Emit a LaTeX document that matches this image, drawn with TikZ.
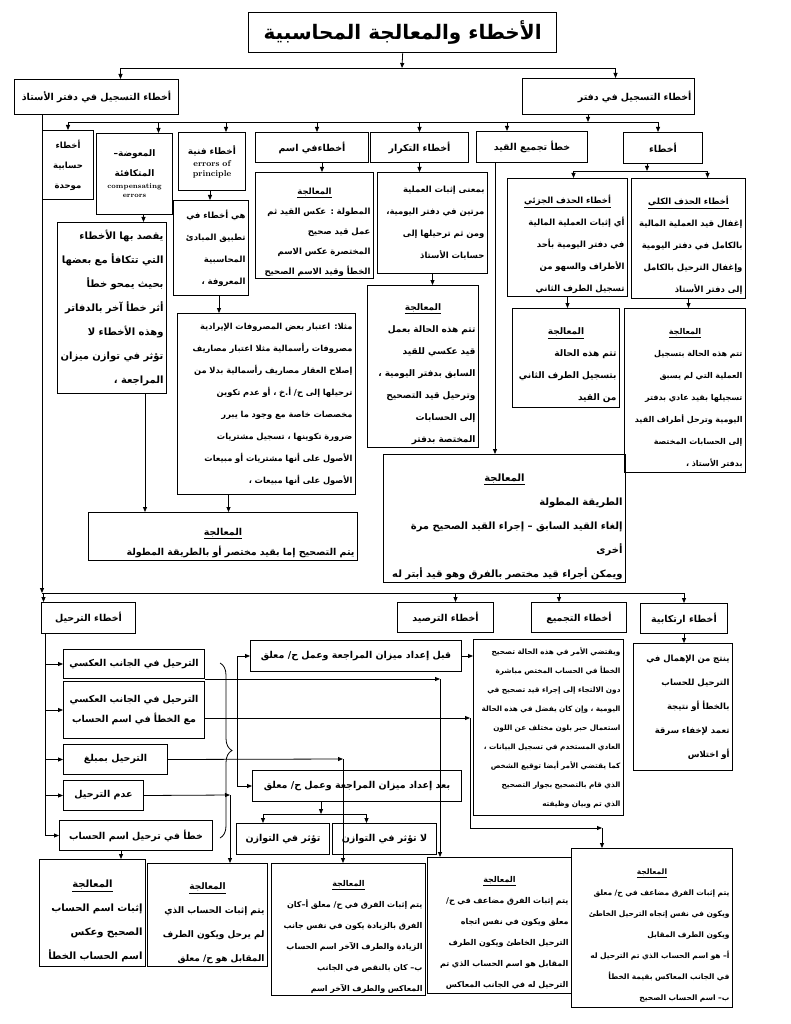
\documentclass[tikz,border=0pt]{standalone}
\usepackage{fontspec}
\usetikzlibrary{arrows.meta,decorations.pathreplacing}
\newfontfamily\arfont[Script=Arabic]{DejaVu Sans}
\TeXXeTstate=1
\newcommand{\arl}[1]{\beginR#1\endR}
\newcommand{\hd}[1]{\par\hbox to\linewidth{\hss\underline{\arl{#1}}\hss}\par}

\begin{document}
\begin{tikzpicture}[x=1pt,y=-1pt,
  box/.style={draw,line width=1pt,inner xsep=3pt,inner ysep=2pt,anchor=north west},
  lbl/.style={box,font=\arfont\bfseries\fontsize{#1}{#1}\selectfont},
  lbl/.default=9.5,
  txt/.style 2 args={box,align=right,font=\arfont\bfseries\fontsize{#1}{#2}\selectfont},
  arr/.style={-{Triangle[length=5pt,width=4pt]},line width=0.8pt},
  ln/.style={line width=0.8pt}]
  \fill[white] (0,0) rectangle (791,1024);
  \useasboundingbox (0,0) rectangle (791,1024);

  \node[box,line width=1.3pt,font=\arfont\bfseries\fontsize{20}{24}\selectfont,
    minimum width=308,minimum height=40] (title) at (248,12) {\arl{الأخطاء والمعالجة المحاسبية}};
  \node[lbl,minimum width=164,minimum height=35] (ledger) at (14,79) {\arl{أخطاء التسجيل في دفتر الأستاذ}};
  \node[lbl,text width=166,align=right,minimum height=36] (journal) at (522,78) {\arl{أخطاء التسجيل في دفتر}};

  \node[txt={8.5}{20},align=center,text width=45,minimum height=69] (arith) at (42,130)
    {\arl{أخطاء}\\\arl{حسابية}\\\arl{موحدة}};
  \node[txt={9}{20},align=center,text width=70,minimum height=81] (comp) at (96,133)
    {\arl{المعوضة–}\\\arl{المتكافئة}\par\vspace{3pt}
     {\normalfont\bfseries\fontsize{7}{9}\selectfont compensating\\errors\par}};
  \node[txt={9}{18},align=center,text width=61,minimum height=58] (princ) at (178,132)
    {\arl{أخطاء فنية}\par\vspace{2pt}
     {\normalfont\bfseries\fontsize{8.5}{10}\selectfont errors of\\principle\par}};
  \node[lbl,minimum width=113,minimum height=30] (nameerr) at (255,132) {\arl{أخطاءفي اسم}};
  \node[lbl,minimum width=98,minimum height=30] (dup) at (370,132) {\arl{أخطاء التكرار}};
  \node[lbl,minimum width=111,minimum height=31] (sumerr) at (476,131) {\arl{خطأ تجميع القيد}};
  \node[lbl,minimum width=79,minimum height=31] (omit) at (623,132) {\arl{أخطاء}};

  \node[txt={10}{24},text width=103,minimum height=171] (compdesc) at (57,222)
    {\arl{يقصد بها الأخطاء}\\\arl{التي تتكافأ مع بعضها}\\\arl{بحيث يمحو خطأ}\\
     \arl{أثر خطأ آخر بالدفاتر}\\\arl{وهذه الأخطاء لا}\\\arl{تؤثر في توازن ميزان}\\\arl{المراجعة ،}};
  \node[txt={8.5}{22},text width=69,minimum height=95] (princdesc) at (173,200)
    {\arl{هي أخطاء في}\\\arl{تطبيق المبادئ}\\\arl{المحاسبية}\\\arl{المعروفة ،}};
  \node[txt={8.5}{20},text width=112,minimum height=106] (nametreat) at (255,172)
    {\hd{المعالجة}\arl{المطولة : عكس القيد ثم}\\\arl{عمل قيد صحيح}\\
     \arl{المختصرة عكس الاسم}\\\arl{الخطأ وقيد الاسم الصحيح}};
  \node[txt={8.5}{22},text width=104,minimum height=101] (dupdesc) at (377,172)
    {\arl{بمعنى إثبات العملية}\\\arl{مرتين في دفتر اليومية،}\\\arl{ومن ثم ترحيلها إلى}\\\arl{حسابات الأستاذ}};
  \node[txt={8.5}{22},text width=114,minimum height=118] (partial) at (507,178)
    {\hd{أخطاء الحذف الجزئي}\arl{أي إثبات العملية المالية}\\\arl{في دفتر اليومية بأحد}\\
     \arl{الأطراف والسهو من}\\\arl{تسجيل الطرف الثاني}};
  \node[txt={8.5}{22},text width=108,minimum height=120] (total) at (631,178)
    {\hd{أخطاء الحذف الكلي}\arl{إغفال قيد العملية المالية}\\\arl{بالكامل في دفتر اليومية}\\
     \arl{وإغفال الترحيل بالكامل}\\\arl{إلى دفتر الأستاذ}};

  \node[txt={8.3}{22},text width=172,minimum height=181] (princex) at (177,313)
    {\arl{مثلا: اعتبار بعض المصروفات الإيرادية}\\\arl{مصروفات رأسمالية مثلا اعتبار مصاريف}\\
     \arl{إصلاح العقار مصاريف رأسمالية بدلا من}\\\arl{ترحيلها إلى ح/ أ.خ ، أو عدم تكوين}\\
     \arl{مخصصات خاصة مع وجود ما يبرر}\\\arl{ضرورة تكوينها ، تسجيل مشتريات}\\
     \arl{الأصول على أنها مشتريات أو مبيعات}\\\arl{الأصول على أنها مبيعات ،}};
  \node[txt={9}{22},text width=105,minimum height=162] (duptreat) at (367,285)
    {\hd{المعالجة}\arl{تتم هذه الحالة بعمل}\\\arl{قيد عكسي للقيد}\\\arl{السابق بدفتر اليومية ،}\\
     \arl{وترحيل قيد التصحيح}\\\arl{إلى الحسابات}\\\arl{المختصة بدفتر}};
  \node[txt={9}{22},text width=101,minimum height=99] (partreat) at (512,308)
    {\hd{المعالجة}\arl{تتم هذه الحالة}\\\arl{بتسجيل الطرف الثاني}\\\arl{من القيد}};
  \node[txt={8}{22},text width=115,minimum height=164] (tottreat) at (624,308)
    {\hd{المعالجة}\arl{تتم هذه الحالة بتسجيل}\\\arl{العملية التي لم يسبق}\\\arl{تسجيلها بقيد عادي بدفتر}\\
     \arl{اليومية وترحل أطراف القيد}\\\arl{إلى الحسابات المختصة}\\\arl{بدفتر الأستاذ ،}};
  \node[txt={9.5}{20},text width=263,minimum height=48] (comptreat) at (88,512)
    {\hd{المعالجة}\arl{يتم التصحيح إما بقيد مختصر أو بالطريقة المطولة}};
  \node[txt={10}{24},text width=236,minimum height=128] (sumtreat) at (383,454)
    {\hd{المعالجة}\arl{الطريقة المطولة}\\\arl{إلغاء القيد السابق – إجراء القيد الصحيح مرة}\\
     \arl{أخرى}\\\arl{ويمكن أجراء قيد مختصر بالفرق وهو قيد أبتر له}};

  \node[lbl,minimum width=94,minimum height=31] (post) at (41,602) {\arl{أخطاء الترحيل}};
  \node[lbl,minimum width=96,minimum height=30] (bal) at (397,602) {\arl{أخطاء الترصيد}};
  \node[lbl,minimum width=95,minimum height=30] (tot) at (531,602) {\arl{أخطاء التجميع}};
  \node[lbl,minimum width=87,minimum height=30] (comm) at (640,603) {\arl{أخطاء ارتكابية}};
  \node[txt={8.5}{24},text width=93,minimum height=127] (commdesc) at (633,643)
    {\arl{ينتج من الإهمال في}\\\arl{الترحيل للحساب}\\\arl{بالخطأ أو نتيجة}\\\arl{تعمد لإخفاء سرقة}\\\arl{أو اختلاس}};
  \node[txt={7.3}{19},text width=144,minimum height=176] (totdesc) at (473,639)
    {\arl{ويقتضي الأمر في هذه الحالة تصحيح}\\\arl{الخطأ في الحساب المختص مباشرة}\\
     \arl{دون الالتجاء إلى إجراء قيد تصحيح في}\\\arl{اليومية ، وإن كان يفضل في هذه الحالة}\\
     \arl{استعمال حبر بلون مختلف عن اللون}\\\arl{العادي المستخدم في تسجيل البيانات ،}\\
     \arl{كما يقتضي الأمر أيضا توقيع الشخص}\\\arl{الذي قام بالتصحيح بجوار التصحيح}\\
     \arl{الذي تم وبيان وظيفته}};
  \node[lbl,minimum width=211,minimum height=31] (before) at (250,640) {\arl{قبل إعداد ميزان المراجعة وعمل ح/ معلق}};
  \node[lbl,minimum width=209,minimum height=31] (after) at (252,770) {\arl{بعد إعداد ميزان المراجعة وعمل ح/ معلق}};
  \node[lbl,minimum width=93,minimum height=31] (affect) at (236,823) {\arl{تؤثر في التوازن}};
  \node[lbl,minimum width=104,minimum height=31] (noaffect) at (332,823) {\arl{لا تؤثر في التوازن}};

  \node[lbl,minimum width=141,minimum height=29] (p1) at (63,649) {\arl{الترحيل في الجانب العكسي}};
  \node[txt={9.5}{20},align=center,text width=135,minimum height=57] (p2) at (63,681)
    {\arl{الترحيل في الجانب العكسي}\\\arl{مع الخطأ في اسم الحساب}};
  \node[lbl,minimum width=104,minimum height=30] (p3) at (63,744) {\arl{الترحيل بمبلغ}};
  \node[lbl,minimum width=80,minimum height=30] (p4) at (63,780) {\arl{عدم الترحيل}};
  \node[lbl,minimum width=153,minimum height=30] (p5) at (59,820) {\arl{خطأ في ترحيل اسم الحساب}};

  \node[txt={10}{24},text width=100,minimum height=107] (tr1) at (39,859)
    {\hd{المعالجة}\arl{إثبات اسم الحساب}\\\arl{الصحيح وعكس}\\\arl{اسم الحساب الخطأ}};
  \node[txt={9}{24},text width=114,minimum height=103] (tr2) at (147,863)
    {\hd{المعالجة}\arl{يتم إثبات الحساب الذي}\\\arl{لم يرحل ويكون الطرف}\\\arl{المقابل هو ح/ معلق}};
  \node[txt={8}{21},text width=148,minimum height=131] (tr3) at (271,863)
    {\hd{المعالجة}\arl{يتم إثبات الفرق في ح/ معلق أ–كان}\\\arl{الفرق بالزيادة يكون في نفس جانب}\\
     \arl{الزيادة والطرف الآخر اسم الحساب}\\\arl{ب– كان بالنقص في الجانب}\\\arl{المعاكس والطرف الآخر اسم}};
  \node[txt={8}{21},text width=138,minimum height=136] (tr4) at (427,857)
    {\hd{المعالجة}\arl{يتم إثبات الفرق مضاعف في ح/}\\\arl{معلق ويكون في نفس اتجاه}\\
     \arl{الترحيل الخاطئ ويكون الطرف}\\\arl{المقابل هو اسم الحساب الذي تم}\\\arl{الترحيل له في الجانب المعاكس}};
  \node[txt={7.5}{21},text width=155,minimum height=159] (tr5) at (571,848)
    {\hd{المعالجة}\arl{يتم إثبات الفرق مضاعف في ح/ معلق}\\\arl{ويكون في نفس إتجاه الترحيل الخاطئ}\\
     \arl{ويكون الطرف المقابل}\\\arl{أ– هو اسم الحساب الذي تم الترحيل له}\\
     \arl{في الجانب المعاكس بقيمة الخطأ}\\\arl{ب– اسم الحساب الصحيح}};

  \coordinate (j0) at (402,68);
  \draw[arr] (title.south) -- (j0);
  \draw[arr] (j0) -| ([xshift=24]ledger.north);
  \draw[arr] (j0) -| ([xshift=7]journal.north);
  \coordinate (j1) at (588,122);
  \draw[arr] (journal.south -| j1) -- (j1);
  \foreach \n/\s in {arith/0,comp/24,princ/14,nameerr/5,dup/0,sumerr/-25,omit/-5}
    \draw[arr] (j1) -| ([xshift=\s]\n.north);
  \coordinate (j2) at (42,593);
  \draw[arr] (ledger.south -| j2) -- (j2);
  \foreach \n/\s in {post/-45,bal/10,tot/-20,comm/0}
    \draw[arr] (j2) -| ([xshift=\s]\n.north);

  \draw[arr] ([xshift=9]comp.south) -- ([xshift=9]comp.south |- compdesc.north);
  \draw[arr] ([xshift=-2]princ.south) -- ([xshift=-2]princ.south |- princdesc.north);
  \draw[arr] ([xshift=8]princdesc.south) -- ([xshift=8]princdesc.south |- princex.north);
  \draw[arr] ([xshift=10]nameerr.south) -- ([xshift=10]nameerr.south |- nametreat.north);
  \draw[arr] (dup.south) -- (dup.south |- dupdesc.north);
  \draw[arr] (dupdesc.south) -- (dupdesc.south |- duptreat.north);
  \draw[arr] ([xshift=-37]sumerr.south) -- ([xshift=-37]sumerr.south |- sumtreat.north);
  \coordinate (j3) at (647,171);
  \draw[arr] (omit.south -| j3) -- (j3);
  \draw[arr] (j3) -| ([xshift=6]partial.north);
  \draw[arr] (j3) -| ([xshift=19]total.north);
  \draw[arr] (partial.south) -- (partial.south |- partreat.north);
  \draw[arr] (total.south) -- (total.south |- tottreat.north);
  \draw[arr] ([xshift=33]compdesc.south) -- ([xshift=33]compdesc.south |- comptreat.north);
  \draw[arr] ([xshift=-38]princex.south) -- ([xshift=-38]princex.south |- comptreat.north);

  \foreach \n in {p1,p2,p3,p4,p5}
    \draw[arr] ([xshift=4]post.south west) |- (\n.west);
  \draw[arr] (comm.south) -- (comm.south |- commdesc.north);
  \draw[decorate,decoration={brace,amplitude=12pt},line width=0.8pt] (220,663) -- (220,838);
  \coordinate (br) at (237,750);
  \draw[arr] (br) |- (before.west);
  \draw[arr] (br) |- (after.west);
  \draw[arr] (before.east) -- (before.east -| totdesc.west);
  \coordinate (j4) at (321,814);
  \draw[arr] (after.south -| j4) -- (j4);
  \draw[arr] (j4) -| ([xshift=-20]affect.north);
  \draw[arr] (j4) -| ([xshift=-18]noaffect.north);

  \coordinate (c1) at (440,679);
  \draw[arr] (p1.south east) -- (c1);
  \draw[arr] (c1) -- (c1 |- tr4.north);
  \coordinate (c2) at (470,718);
  \coordinate (c3) at (602,828);
  \draw[arr] (p2.east |- c2) -- (c2);
  \draw[arr] (c2) |- (c3);
  \draw[arr] (c3) -- (c3 |- tr5.north);
  \coordinate (c4) at (343,759);
  \draw[arr] (p3.east) -- (c4);
  \draw[arr] (c4) -- (c4 |- tr3.north);
  \coordinate (c5) at (230,795);
  \draw[arr] (p4.east) -- (c5);
  \draw[arr] (c5) -- (c5 |- tr2.north);
  \draw[arr] ([xshift=-15]p5.south) -- ([xshift=-15]p5.south |- tr1.north);
\end{tikzpicture}
\end{document}
